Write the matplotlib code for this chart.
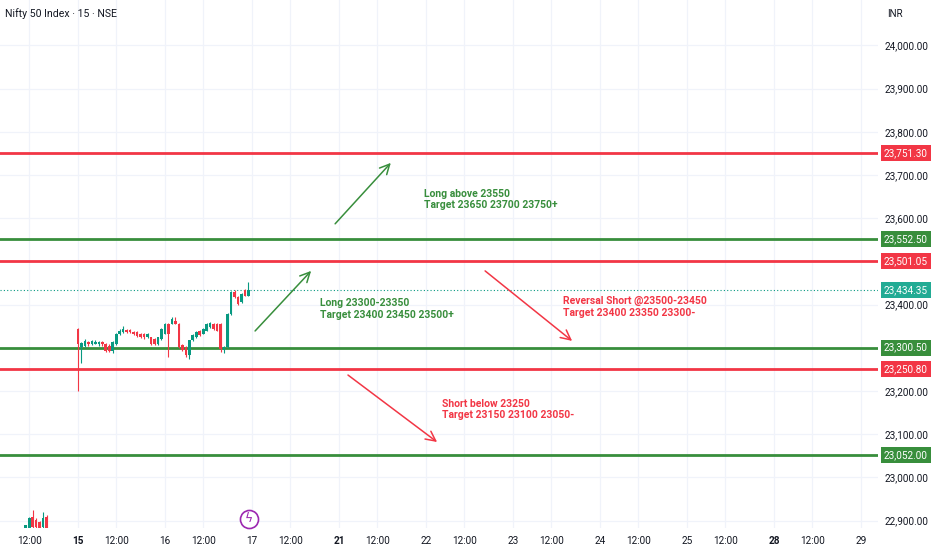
import numpy as np
import matplotlib.pyplot as plt
from matplotlib.transforms import blended_transform_factory

plt.rcParams['font.family'] = ['Roboto', 'DejaVu Sans']

# 15 min candles, x = bar number (25 bars a session, 0 = first bar on the 15th)
bar_idx = [-16, -15, -14, -13, -12, -11, -10, -9] + list(range(0, 50))
opens = [22878, 22881, 22881, 22908, 22901, 22897, 22885, 22908,
         23343, 23301, 23305, 23313, 23308, 23310, 23309, 23313, 23309, 23305,
         23293, 23309, 23332, 23336, 23341, 23341, 23336, 23336, 23332, 23332,
         23324, 23324, 23320, 23309, 23320,
         23333, 23356, 23356, 23363, 23356, 23306, 23302, 23283, 23317, 23325,
         23340, 23333, 23340, 23348, 23356, 23356, 23356, 23294, 23302, 23379,
         23429, 23417, 23406, 23433, 23421]
closes = [22882, 22889, 22905, 22885, 22885, 22881, 22905, 22874,
          23308, 23311, 23316, 23308, 23316, 23314, 23313, 23309, 23293, 23293,
          23313, 23332, 23339, 23343, 23337, 23336, 23332, 23328, 23324, 23324,
          23332, 23309, 23309, 23324, 23343,
          23356, 23333, 23367, 23356, 23302, 23294, 23283, 23317, 23329, 23337,
          23329, 23344, 23356, 23357, 23344, 23340, 23298, 23302, 23379, 23429,
          23417, 23402, 23425, 23421, 23434.35]
highs = [22884, 22891, 22908, 22924, 22905, 22900, 22920, 22912,
         23346, 23314, 23320, 23316, 23319, 23317, 23315, 23316, 23311, 23308,
         23316, 23334, 23343, 23351, 23343, 23343, 23339, 23338, 23335, 23334,
         23334, 23326, 23322, 23326, 23346,
         23358, 23358, 23371, 23371, 23358, 23308, 23304, 23319, 23331, 23339,
         23342, 23346, 23358, 23360, 23358, 23358, 23358, 23304, 23381, 23431,
         23433, 23419, 23427, 23436, 23452]
lows = [22875, 22878, 22879, 22882, 22880, 22876, 22882, 22868,
        23200, 23266, 23302, 23305, 23306, 23308, 23305, 23305, 23290, 23290,
        23288, 23307, 23330, 23334, 23334, 23334, 23330, 23326, 23322, 23321,
        23322, 23306, 23306, 23307, 23318,
        23331, 23279, 23354, 23354, 23300, 23292, 23279, 23275, 23315, 23323,
        23327, 23331, 23338, 23346, 23342, 23338, 23290, 23288, 23300, 23377,
        23415, 23400, 23404, 23419, 23419]

level_prices = [23751.30, 23552.50, 23501.05, 23300.50, 23250.80, 23052.00]
level_kinds = ['res', 'sup', 'res', 'sup', 'res', 'sup']
last_price = 23434.35

day_labels = ['14', '15', '16', '17', '21', '22', '23', '24', '25', '28', '29']
bold_days = ['15', '21', '28']
price_ticks = [22900, 23000, 23100, 23200, 23300, 23400, 23500, 23600,
               23700, 23800, 23900, 24000]

UP = '#089981'
DOWN = '#f23645'
GREEN = '#388e3c'
RED = '#f23645'
TXT = '#131722'
NARROW = ['Liberation Sans Narrow', 'Roboto', 'DejaVu Sans']

fig = plt.figure(figsize=(9.32, 5.5), dpi=100)
ax = fig.add_axes([0, 22 / 550, 878 / 932, 528 / 550])
for s in ax.spines.values():
    s.set_visible(False)

# x ticks: session start + 12:00 of each day
xt, xl = [], []
for d, lab in enumerate(day_labels):
    start = (d - 1) * 25
    if start > -22:
        xt.append(start)
        xl.append(lab)
    if start + 11 < 229:
        xt.append(start + 11)
        xl.append('12:00')
ax.set_xticks(xt)
ax.set_xticklabels(xl)
for t in ax.get_xticklabels():
    t.set_fontsize(7.2)
    t.set_color(TXT)
    if t.get_text() in bold_days:
        t.set_fontweight('bold')
ax.tick_params(axis='x', length=0, pad=6)

ax.yaxis.tick_right()
ax.set_yticks(price_ticks)
ax.set_yticklabels(['{:,.2f}'.format(p) for p in price_ticks])
ax.tick_params(axis='y', length=0, pad=5, labelsize=7.2, labelcolor=TXT)
ax.grid(True, color='#f0f3fa', lw=0.9)
ax.set_axisbelow(True)

ax.set_xlim(-22.4, 229.9)
ax.set_ylim(22883, 24105)

# candles
for x, o, h, l, c in zip(bar_idx, opens, highs, lows, closes):
    col = UP if c >= o else DOWN
    ax.vlines(x, l, h, color=col, lw=0.8, zorder=3)
    ax.bar(x, max(abs(c - o), 1.5), bottom=min(o, c), width=0.75,
           color=col, lw=0, zorder=4)

# levels
trans = blended_transform_factory(ax.transAxes, ax.transData)
for p, k in zip(level_prices, level_kinds):
    col = RED if k == 'res' else GREEN
    ax.axhline(p, color=col, lw=2, zorder=2)
    ax.text(1.0068, p, '{:,.2f}'.format(p), transform=trans, ha='left',
            va='center', fontsize=7.2, color='white', clip_on=False,
            bbox=dict(boxstyle='square,pad=0.3', fc=col, ec='none'))

ax.axhline(last_price, color=UP, lw=0.8, ls=(0, (1, 2)), zorder=2)
ax.text(1.0068, last_price, '{:,.2f}'.format(last_price), transform=trans,
        ha='left', va='center', fontsize=7.2, color='white', clip_on=False,
        bbox=dict(boxstyle='square,pad=0.3', fc='#22ab94', ec='none'))

# trade notes
arrow = '->,head_length=0.7,head_width=0.35'
ax.annotate('', xy=(89.9, 23728), xytext=(73.9, 23587),
            arrowprops=dict(arrowstyle=arrow, color=GREEN, lw=1.1,
                            shrinkA=0, shrinkB=0))
ax.annotate('', xy=(67.0, 23478), xytext=(50.9, 23339),
            arrowprops=dict(arrowstyle=arrow, color=GREEN, lw=1.1,
                            shrinkA=0, shrinkB=0))
ax.annotate('', xy=(142.0, 23316), xytext=(117.0, 23478),
            arrowprops=dict(arrowstyle=arrow, color=RED, lw=1.1,
                            shrinkA=0, shrinkB=0))
ax.annotate('', xy=(103.2, 23082), xytext=(77.6, 23237),
            arrowprops=dict(arrowstyle=arrow, color=RED, lw=1.1,
                            shrinkA=0, shrinkB=0))

note_kw = dict(fontsize=7.5, fontweight='semibold', va='top', ha='left',
               linespacing=1.2)
ax.text(99.4, 23668, 'Long above 23550\nTarget 23650 23700 23750+',
        color=GREEN, **note_kw)
ax.text(69.5, 23415, 'Long 23300-23350\nTarget 23400 23450 23500+',
        color=GREEN, **note_kw)
ax.text(139.4, 23420, 'Reversal Short @23500-23450\nTarget 23400 23350 23300-',
        color=RED, **note_kw)
ax.text(104.6, 23182, 'Short below 23250\nTarget 23150 23100 23050-',
        color=RED, **note_kw)

# header bits
fig.text(5 / 932, 1 - 14 / 550, 'Nifty 50 Index · 15 · NSE', fontsize=7.6,
         color=TXT, va='center', ha='left', family=NARROW)
fig.text(887 / 932, 1 - 14 / 550, 'INR', fontsize=7, color=TXT,
         va='center', ha='left')

# event marker on the time axis
ax.plot([249 / 878], [9 / 528], transform=ax.transAxes, marker='o', ms=13,
        mfc='white', mec='#9c27b0', mew=1.2, clip_on=False, zorder=6)
ax.text(249 / 878, 9 / 528, 'ϟ', transform=ax.transAxes, ha='center',
        va='center', fontsize=9, color='#9c27b0', family='DejaVu Sans',
        zorder=7)

fig.savefig('out.png', dpi=100, facecolor='white')
